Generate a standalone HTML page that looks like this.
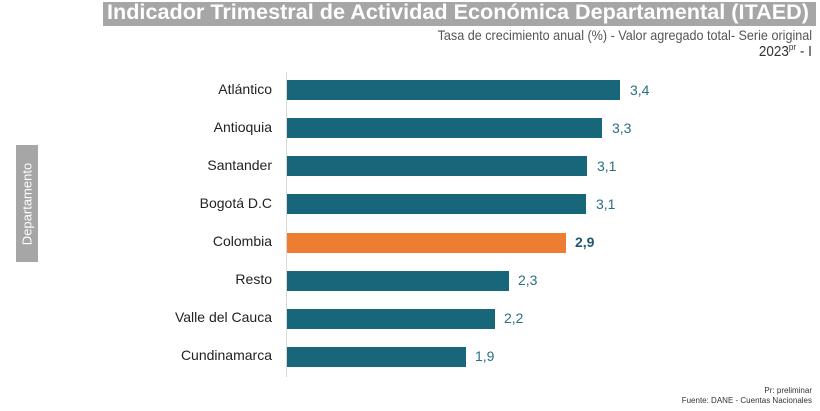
<!DOCTYPE html>
<html><head><meta charset="utf-8"><style>
body{margin:0;width:820px;height:411px;background:#fff;position:relative;overflow:hidden;font-family:"Liberation Sans",sans-serif}
.t{position:absolute;left:103px;top:2px;width:713px;height:24px;background:#a6a6a6}
.t span{position:absolute;left:4px;top:-1px;color:#fff;font-weight:bold;font-size:21px;white-space:nowrap;transform-origin:0 0;transform:scaleX(1.03)}
.sub{position:absolute;right:8px;color:#555;font-size:14px;white-space:nowrap;transform-origin:100% 0;transform:scaleX(0.9)}
.dep{position:absolute;left:16px;top:145px;width:22px;height:117px;background:#a6a6a6}
.dep span{position:absolute;left:50%;top:50%;color:#fff;font-size:13px;white-space:nowrap;transform:translate(-50%,-50%) rotate(-90deg)}
.ax{position:absolute;left:286px;top:72px;width:1px;height:305px;background:#d9d9d9}
.lab{position:absolute;right:548px;font-size:14px;color:#222;white-space:nowrap}
.bar{position:absolute;left:287px;height:20px;background:#17667a}
.v{position:absolute;font-size:14px;color:#2a6f80}
.f{position:absolute;right:8px;font-size:8px;color:#333;white-space:nowrap}
</style></head><body>
<div class="t"><span>Indicador Trimestral de Actividad Económica Departamental (ITAED)</span></div>
<div class="sub" style="top:27px">Tasa de crecimiento anual (%) - Valor agregado total- Serie original</div>
<div class="sub" style="top:42px;font-size:15px;color:#333">2023<sup style="font-size:9px">pr</sup> - I</div>
<div class="dep"><span>Departamento</span></div>
<div class="ax"></div>

<div class="lab" style="top:81px">Atlántico</div><div class="bar" style="top:80px;width:333px"></div><div class="v" style="top:82px;left:630px">3,4</div>
<div class="lab" style="top:119px">Antioquia</div><div class="bar" style="top:118px;width:315px"></div><div class="v" style="top:120px;left:612px">3,3</div>
<div class="lab" style="top:157px">Santander</div><div class="bar" style="top:156px;width:300px"></div><div class="v" style="top:158px;left:597px">3,1</div>
<div class="lab" style="top:195px">Bogotá D.C</div><div class="bar" style="top:194px;width:299px"></div><div class="v" style="top:196px;left:596px">3,1</div>
<div class="lab" style="top:233px">Colombia</div><div class="bar" style="top:233px;width:279px;background:#ed7d31"></div><div class="v" style="top:234px;left:575px;font-weight:bold;color:#1c5a6e">2,9</div>
<div class="lab" style="top:271px">Resto</div><div class="bar" style="top:271px;width:222px"></div><div class="v" style="top:272px;left:518px">2,3</div>
<div class="lab" style="top:309px">Valle del Cauca</div><div class="bar" style="top:309px;width:208px"></div><div class="v" style="top:310px;left:504px">2,2</div>
<div class="lab" style="top:347px">Cundinamarca</div><div class="bar" style="top:347px;width:179px"></div><div class="v" style="top:348px;left:475px">1,9</div>

<div class="f" style="top:386px">Pr: preliminar</div>
<div class="f" style="top:396px">Fuente: DANE - Cuentas Nacionales</div>
</body></html>
